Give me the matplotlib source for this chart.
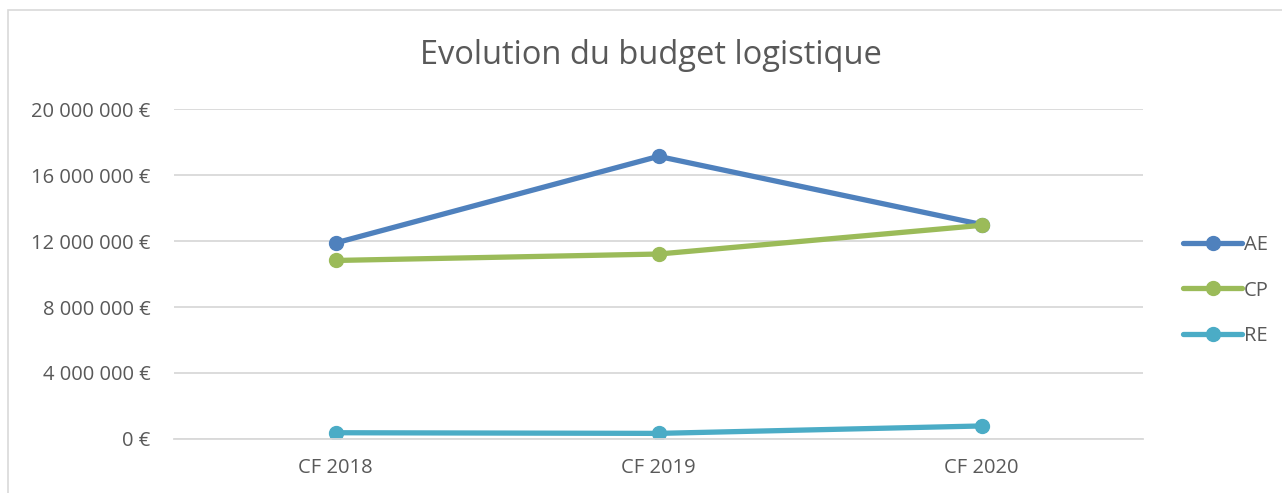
import matplotlib.pyplot as plt
from matplotlib.ticker import FuncFormatter
from matplotlib.patches import Rectangle

plt.rcParams['font.family'] = ['Open Sans', 'DejaVu Sans']

categories = ["CF 2018", "CF 2019", "CF 2020"]
ae = [11880000, 17130000, 13000000]
cp = [10820000, 11210000, 12950000]
re_ = [380000, 340000, 790000]

series = [("AE", ae, "#4F81BD"), ("CP", cp, "#9BBB59"), ("RE", re_, "#4BACC6")]

fig = plt.figure(figsize=(12.82, 4.93), dpi=100)
# outer chart border (light gray)
fig.patches.append(Rectangle((8/1282, -0.1), 1.2, 1 - 10/493 + 0.1, transform=fig.transFigure,
                             fill=False, edgecolor="#D9D9D9", linewidth=1.2))

ax = fig.add_axes([174/1282, 1 - 439/493, (1143-174)/1282, (439-109)/493])
x = list(range(len(categories)))
for name, vals, col in series:
    ax.plot(x, vals, color=col, linewidth=3.8, marker="o", markersize=10,
            label=name, solid_capstyle="round")

ax.set_xlim(-0.5, 2.5)
ax.set_ylim(0, 20000000)
ax.set_yticks(range(0, 20000001, 4000000))
ax.yaxis.set_major_formatter(FuncFormatter(lambda v, p: f"{int(v):,} €".replace(",", " ")))
ax.set_xticks(x)
ax.set_xticklabels(categories)
ax.grid(axis="y", color="#D9D9D9", linewidth=1.3)
ax.set_axisbelow(True)
for s in ["top", "right", "left"]:
    ax.spines[s].set_visible(False)
ax.spines["bottom"].set_color("#D9D9D9")
ax.spines["bottom"].set_linewidth(1.3)
ax.tick_params(length=0, labelsize=14.5, colors="#595959")
ax.tick_params(axis="y", pad=17)
ax.tick_params(axis="x", pad=14)

fig.text(0.508, 1 - 55/493, "Evolution du budget logistique", ha="center", va="center",
         fontsize=23.5, color="#595959")

leg = ax.legend(loc="center left", bbox_to_anchor=(1.023, 0.45), frameon=False,
                fontsize=14.5, handlelength=2.9, labelspacing=1.25, handletextpad=0.1,
                labelcolor="#595959")

fig.savefig("out.png", dpi=100)
